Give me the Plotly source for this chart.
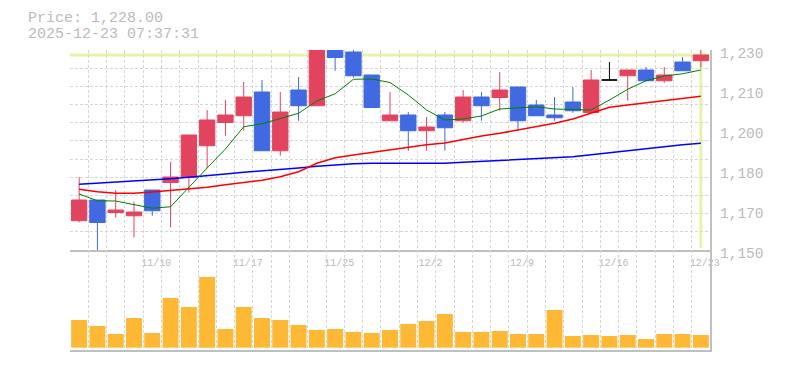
import plotly.graph_objects as go

# ---------------- data ----------------
dates = ["11/4", "11/5", "11/6", "11/7", "11/10", "11/11", "11/12", "11/13", "11/14",
         "11/17", "11/18", "11/19", "11/20", "11/21", "11/25", "11/26", "11/27", "11/28",
         "12/1", "12/2", "12/3", "12/4", "12/5", "12/8", "12/9", "12/10", "12/11", "12/12",
         "12/15", "12/16", "12/17", "12/18", "12/19", "12/22", "12/23"]

opens = [1161.7, 1170.0, 1165.0, 1163.7, 1174.0, 1177.0, 1179.0, 1191.7, 1201.0,
         1203.7, 1213.2, 1189.7, 1214.0, 1207.7, 1234.0, 1229.2, 1220.0, 1201.7,
         1204.0, 1197.7, 1204.0, 1201.7, 1211.2, 1211.0, 1215.2, 1208.0, 1204.0, 1209.2,
         1205.0, 1218.0, 1219.7, 1222.0, 1217.7, 1225.2, 1225.7]
highs = [1179.1, 1170.0, 1174.0, 1169.3, 1174.0, 1185.2, 1196.0, 1206.0, 1210.0,
         1217.2, 1218.0, 1213.2, 1219.2, 1238.0, 1236.0, 1231.5, 1220.0, 1213.2,
         1205.2, 1203.2, 1205.2, 1214.0, 1213.2, 1221.2, 1215.2, 1210.0, 1211.2, 1215.2,
         1222.0, 1225.2, 1222.0, 1223.2, 1223.2, 1227.2, 1231.0]
lows = [1161.1, 1149.5, 1163.0, 1155.0, 1163.7, 1159.0, 1173.0, 1182.7, 1195.7,
        1197.7, 1189.7, 1187.7, 1201.7, 1207.7, 1221.7, 1219.0, 1207.0, 1201.7,
        1189.7, 1189.7, 1189.7, 1200.9, 1201.7, 1205.7, 1197.7, 1203.7, 1201.7, 1204.9,
        1205.0, 1218.0, 1209.7, 1217.7, 1216.9, 1221.7, 1223.0]
closes = [1170.0, 1161.0, 1166.0, 1165.2, 1165.7, 1179.2, 1196.0, 1202.0, 1204.0,
          1211.2, 1189.7, 1205.2, 1207.7, 1236.0, 1227.0, 1219.7, 1207.0, 1204.0,
          1197.7, 1199.2, 1198.9, 1211.2, 1207.7, 1214.0, 1201.7, 1203.7, 1202.9, 1205.7,
          1218.0, 1218.0, 1222.0, 1217.7, 1220.0, 1221.7, 1228.0]

ma5 = [1172.4, 1169.7, 1169.6, 1168.3, 1166.7, 1167.3, 1175.2, 1182.8, 1190.4,
       1199.3, 1200.5, 1202.7, 1204.7, 1209.6, 1212.5, 1218.3, 1218.4, 1217.0,
       1212.0, 1206.0, 1202.0, 1202.4, 1203.6, 1206.4, 1206.9, 1207.3, 1206.4, 1206.3,
       1206.0, 1210.0, 1214.3, 1217.7, 1219.6, 1220.5, 1222.0]
ma25 = [1174.3, 1173.3, 1172.7, 1172.7, 1173.2, 1173.9, 1174.3, 1175.1, 1176.1,
        1177.1, 1177.9, 1179.3, 1181.3, 1184.7, 1186.9, 1188.0, 1189.1, 1190.0,
        1191.3, 1192.1, 1192.8, 1194.3, 1195.6, 1196.7, 1198.0, 1199.2, 1200.7, 1202.4,
        1204.6, 1207.1, 1208.0, 1208.9, 1209.9, 1210.7, 1211.5]
ma75 = [1176.3, 1176.7, 1177.2, 1177.6, 1178.0, 1178.5, 1179.1, 1179.9, 1180.4,
        1181.1, 1181.6, 1182.3, 1182.8, 1183.5, 1184.1, 1184.5, 1184.7, 1184.7,
        1184.7, 1184.7, 1184.7, 1185.1, 1185.5, 1185.9, 1186.3, 1186.7, 1187.0, 1187.3,
        1188.1, 1188.9, 1189.9, 1190.7, 1191.5, 1192.1, 1192.7]

volumes = [27700, 21700, 13700, 29700, 14700, 49700, 40700, 70700, 18700,
           40700, 29700, 27700, 22700, 17700, 18700, 15700, 14700, 17700,
           23700, 26700, 33700, 15700, 15700, 16700, 13700, 13700, 37700, 11700,
           12700, 11700, 12700, 8700, 13700, 13700, 12700]

x_tick_dates = ["11/10", "11/17", "11/25", "12/2", "12/9", "12/16", "12/23"]
y_tick_vals = [1230, 1214, 1198, 1182, 1166, 1150]
y_tick_text = ["1,230", "1,210", "1,200", "1,180", "1,170", "1,150"]
timestamp = "2025-12-23 07:37:31"

# ---------------- styling ----------------
UP = "#e2445f"
DOWN = "#4169e1"
GRID = "#d6d6d6"
AXIS = "#c0c0c0"
TXT = "#bbbbbb"
FONT = "Liberation Mono"
HILITE = "#e3f4a8"
BODY_MARGIN = 8  # default page margin of the html body (all four sides)

x = list(range(len(dates)))
y_min, y_max = 1150, 1230
grid_y = [y_min + k * (y_max - y_min) / 11 for k in range(12)]
grid_x = [k - 0.5 for k in range(len(dates) + 1)]

main_idx = [i for i in x if opens[i] != closes[i]]
doji_idx = [i for i in x if opens[i] == closes[i]]

fig = go.Figure()

fig.add_trace(go.Scatter(x=x, y=ma75, mode="lines", line=dict(color="#0000ff", width=1.5),
                         xaxis="x", yaxis="y", hoverinfo="skip"))
fig.add_trace(go.Scatter(x=x, y=ma25, mode="lines", line=dict(color="#ff0000", width=1.5),
                         xaxis="x", yaxis="y", hoverinfo="skip"))
fig.add_trace(go.Scatter(x=x, y=ma5, mode="lines", line=dict(color="#008000", width=1),
                         xaxis="x", yaxis="y", hoverinfo="skip"))

fig.add_trace(go.Candlestick(
    x=[x[i] for i in main_idx],
    open=[opens[i] for i in main_idx],
    high=[highs[i] for i in main_idx],
    low=[lows[i] for i in main_idx],
    close=[closes[i] for i in main_idx],
    increasing=dict(line=dict(color=UP, width=1), fillcolor=UP),
    decreasing=dict(line=dict(color=DOWN, width=1), fillcolor=DOWN),
    xaxis="x", yaxis="y"))
fig.add_trace(go.Candlestick(
    x=[x[i] for i in doji_idx],
    open=[opens[i] for i in doji_idx],
    high=[highs[i] for i in doji_idx],
    low=[lows[i] for i in doji_idx],
    close=[closes[i] for i in doji_idx],
    increasing=dict(line=dict(color="#000000", width=1), fillcolor="#000000"),
    decreasing=dict(line=dict(color="#000000", width=1), fillcolor="#000000"),
    xaxis="x", yaxis="y"))

fig.add_trace(go.Bar(x=x, y=volumes, marker=dict(color="#fdb935", line=dict(width=0)),
                     xaxis="x2", yaxis="y2"))

# invisible carrier so the label axis (y3) is drawn
fig.add_trace(go.Scatter(x=[x[-1]], y=[closes[-1]], mode="markers",
                         marker=dict(opacity=0, size=1), xaxis="x", yaxis="y3",
                         hoverinfo="skip"))

# highlight lines (current price / current date)
fig.add_shape(type="line", xref="x domain", yref="y", x0=0, x1=1,
              y0=closes[-1], y1=closes[-1], line=dict(color=HILITE, width=3), layer="below")
fig.add_shape(type="line", xref="x", yref="y domain", x0=x[-1], x1=x[-1],
              y0=0.01, y1=1, line=dict(color=HILITE, width=3), layer="below")

fig.add_annotation(text=f"Price: {closes[-1]:,.2f}", xref="paper", yref="paper",
                   x=-0.068, y=1.104, xanchor="left", yanchor="middle", showarrow=False,
                   font=dict(family=FONT, size=15, color=TXT))
fig.add_annotation(text=timestamp, xref="paper", yref="paper",
                   x=-0.068, y=1.05, xanchor="left", yanchor="middle", showarrow=False,
                   font=dict(family=FONT, size=15, color=TXT))

minor_x = dict(tickmode="array", tickvals=grid_x, showgrid=True, gridcolor=GRID,
               griddash="3px,2px", gridwidth=1, ticks="")

fig.update_layout(
    width=785 - 2 * BODY_MARGIN, height=370 - 2 * BODY_MARGIN,
    margin=dict(l=70 - BODY_MARGIN, r=75 - BODY_MARGIN, t=50 - BODY_MARGIN,
                b=20 - BODY_MARGIN, pad=0, autoexpand=False),
    paper_bgcolor="white", plot_bgcolor="white",
    showlegend=False,
    boxgap=0.16, boxgroupgap=0,
    bargap=0.125,
    xaxis=dict(domain=[0, 1], anchor="y", range=[-0.5, len(dates) - 0.5],
               tickmode="array", tickvals=[dates.index(d) for d in x_tick_dates],
               ticktext=x_tick_dates, showgrid=False, zeroline=False, automargin=False,
               minor=minor_x, showline=True, linecolor=AXIS, linewidth=1.5, ticks="",
               tickfont=dict(family=FONT, size=10, color=TXT),
               ticklabelshift=4, ticklabelstandoff=2,
               rangeslider=dict(visible=False), fixedrange=True),
    xaxis2=dict(domain=[0, 1], anchor="y2", matches="x", range=[-0.5, len(dates) - 0.5],
                showticklabels=False, showgrid=False, zeroline=False, minor=minor_x,
                automargin=False,
                showline=True, linecolor=AXIS, linewidth=1.5, ticks="", fixedrange=True),
    yaxis=dict(domain=[1 / 3, 1], anchor="x", range=[y_min, y_max], side="right",
               tickmode="array", tickvals=grid_y, showticklabels=False, automargin=False,
               showgrid=True, gridcolor=GRID, griddash="3px,2px", gridwidth=1,
               zeroline=False, showline=True, linecolor=AXIS, linewidth=1.5, ticks="",
               fixedrange=True),
    yaxis3=dict(overlaying="y", anchor="x", side="right", range=[y_min, y_max],
                tickmode="array", tickvals=y_tick_vals, ticktext=y_tick_text,
                showgrid=False, zeroline=False, showline=False, ticks="", automargin=False,
                tickfont=dict(family=FONT, size=14.5, color=TXT),
                ticklabelshift=3, ticklabelstandoff=9, fixedrange=True),
    yaxis2=dict(domain=[0, 1 / 3], anchor="x2", range=[-2300, 97700], side="right",
                showticklabels=False, showgrid=False, zeroline=False, automargin=False,
                showline=True, linecolor=AXIS, linewidth=1.5, ticks="", fixedrange=True),
)

fig.write_html("out.html")
